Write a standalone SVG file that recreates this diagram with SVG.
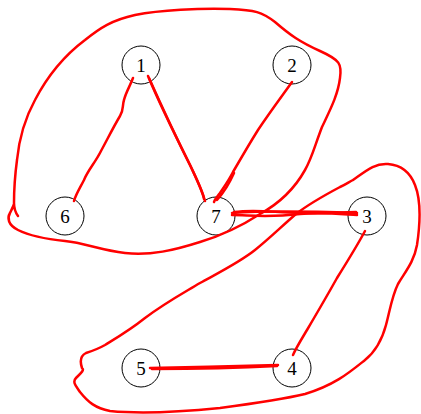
<svg xmlns="http://www.w3.org/2000/svg" width="421" height="414" viewBox="0 0 421 414">
<style>
.n circle{fill:#fff;stroke:#000;stroke-width:1}
.n text{font-family:"Liberation Serif","DejaVu Serif",serif;font-size:19px;text-anchor:middle;dominant-baseline:central;fill:#000}
.c path{fill:none;stroke:#ff0000;stroke-width:2.5;stroke-linecap:round;stroke-linejoin:round}
</style>
<rect width="421" height="414" fill="#fff"/>
<g id="nodes">
<g id="n1" class="n"><circle cx="141" cy="65" r="19"/><text x="141" y="65">1</text></g>
<g id="n2" class="n"><circle cx="292" cy="65" r="19"/><text x="292" y="65">2</text></g>
<g id="n6" class="n"><circle cx="65" cy="216" r="19"/><text x="65" y="216">6</text></g>
<g id="n7" class="n"><circle cx="216" cy="216" r="19"/><text x="216" y="216">7</text></g>
<g id="n3" class="n"><circle cx="367" cy="216" r="19"/><text x="367" y="216">3</text></g>
<g id="n5" class="n"><circle cx="141" cy="368" r="19"/><text x="141" y="368">5</text></g>
<g id="n4" class="n"><circle cx="292" cy="368" r="19"/><text x="292" y="368">4</text></g>
</g>
<g id="connectors" class="c">
<path d="M18,216 C15,212 14,208 14,203 C14,190 15,175 17,160 C19,140 24,120 35,100 C48,75 65,55 85,40 C100,28 112,20 135,15 C160,10 200,8 230,9 C255,10 262,12 275,22 C290,35 300,42 320,51 C340,60 342,64 340,78 C338,95 330,110 322,127 C315,145 312,158 305,170 C295,188 280,203 260,214 C240,227 220,236 200,242 C175,250 150,256 125,253 C100,250 85,243 65,241 C45,239 30,236 18,230 C8,225 7,218 10,213 C12,209 13,207 14,204"/>
<path d="M353,180 C367,170 375,163 388,164 C400,165 410,172 415,185 C421,200 420,225 417,245 C414,262 405,272 398,284 C392,296 390,310 386,325 C382,340 375,352 365,360 C350,372 335,385 305,394 C280,400 250,404 220,408 C180,412 140,414 110,411 C95,408 88,402 80,392 C76,386 72,382 76,378 C80,374 85,370 82,368 C80,362 80,356 86,353 C92,351 98,349 105,345 C118,337 130,330 145,318 C165,303 180,295 200,283 C220,272 240,262 255,250 C270,238 282,226 296,214 C310,203 325,195 340,187 C345,185 349,182 353,180"/>
<path d="M133,78 C130,86 126,92 124,100 C122,106 124,110 120,116 C114,126 108,138 101,151 C95,163 88,170 84,180 C80,188 76,194 74,201"/>
<path d="M148,76 C160,105 175,135 190,165 C197,180 202,190 205,201"/>
<path d="M149,78 C162,107 176,137 191,167 C198,182 203,192 204,199"/>
<path d="M292,82 C282,96 270,112 258,130 C248,146 240,160 233,172 C229,180 224,187 220,193 C217,197 215,199 214,202"/>
<path d="M234,173 C230,182 226,190 217,200"/>
<path d="M232,213 C260,211 300,211 357,213"/>
<path d="M232,215 C250,215 265,218 300,214 C320,212 340,214 357,215"/>
<path d="M234,212 C255,209 270,212 300,213 C330,214 345,212 356,212"/>
<path d="M365,231 C357,246 347,262 337,278 C327,296 317,313 307,330 C301,340 296,348 293,355"/>
<path d="M150,368 C190,367 240,366 278,365"/>
<path d="M152,369 C192,369 240,368 277,366"/>
</g>
</svg>
